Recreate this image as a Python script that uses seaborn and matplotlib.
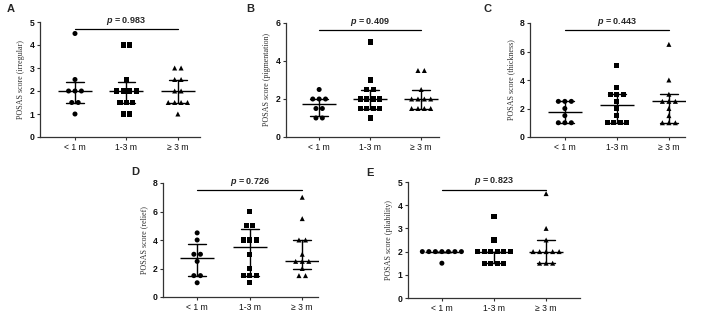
import numpy as np
import pandas as pd
import matplotlib
matplotlib.use("Agg")
import matplotlib.pyplot as plt
import seaborn as sns

# ---------------- data ----------------
categories = ["< 1 m", "1-3 m", "≥ 3 m"]
panel_letters = ["A", "B", "C", "D", "E"]
y_labels = ["POSAS score (irregular)", "POSAS score (pigmentation)",
            "POSAS score (thickness)", "POSAS score (relief)",
            "POSAS score (pliability)"]
p_values = ["0.983", "0.409", "0.443", "0.726", "0.823"]
y_max = [5, 6, 8, 8, 5]
y_step = [1, 2, 2, 2, 1]

irregular_lt1 = [4.5, 2.5, 2, 2, 2, 1.5, 1.5, 1]
irregular_1to3 = [4, 4, 2.5, 2, 2, 2, 2, 1.5, 1.5, 1.5, 1, 1]
irregular_ge3 = [3, 3, 2.5, 2.5, 2, 2, 1.5, 1.5, 1.5, 1.5, 1]

pigment_lt1 = [2.5, 2, 2, 2, 1.5, 1.5, 1, 1]
pigment_1to3 = [5, 3, 2.5, 2.5, 2, 2, 2, 2, 1.5, 1.5, 1.5, 1.5, 1]
pigment_ge3 = [3.5, 3.5, 2.5, 2, 2, 2, 2, 1.5, 1.5, 1.5, 1.5]

thick_lt1 = [2.5, 2.5, 2.5, 2, 1.5, 1, 1, 1]
thick_1to3 = [5, 3.5, 3, 3, 3, 2.5, 2, 1.5, 1, 1, 1, 1]
thick_ge3 = [6.5, 4, 3, 2.5, 2.5, 2.5, 2, 1.5, 1, 1, 1]

relief_lt1 = [4.5, 4, 3, 3, 2.5, 1.5, 1.5, 1]
relief_1to3 = [6, 5, 5, 4, 4, 4, 3, 2, 1.5, 1.5, 1.5, 1]
relief_ge3 = [7, 5.5, 4, 4, 3, 2.5, 2.5, 2.5, 2, 1.5, 1.5]

pliab_lt1 = [2, 2, 2, 2, 2, 2, 2, 1.5]
pliab_1to3 = [3.5, 2.5, 2, 2, 2, 2, 2, 2, 1.5, 1.5, 1.5, 1.5]
pliab_ge3 = [4.5, 3, 2.5, 2, 2, 2, 2, 2, 1.5, 1.5, 1.5]

panels_data = [
    [irregular_lt1, irregular_1to3, irregular_ge3],
    [pigment_lt1, pigment_1to3, pigment_ge3],
    [thick_lt1, thick_1to3, thick_ge3],
    [relief_lt1, relief_1to3, relief_ge3],
    [pliab_lt1, pliab_1to3, pliab_ge3],
]

# ---------------- layout / style ----------------
W, H = 708, 313
# axes boxes in pixels: left, right, top, bottom
boxes_px = [(40, 200, 22, 137), (286, 439, 23, 137), (530, 685, 23, 137),
            (163, 318, 183, 297), (408, 580, 182, 298)]
xlims = [(-0.68, 2.43), (-0.65, 2.35), (-0.67, 2.31), (-0.65, 2.3), (-0.65, 2.65)]
letter_px = [(11, 9), (250, 9), (488, 9), (135, 172), (370, 173)]
marker_map = {categories[0]: "o", categories[1]: "s", categories[2]: "^"}
spacing = 0.125
pline_frac = 0.935

sns.set_theme(style="ticks")
plt.rcParams["font.family"] = ["Liberation Sans", "DejaVu Sans"]
plt.rcParams["mathtext.fontset"] = "custom"
plt.rcParams["mathtext.it"] = "Liberation Sans:italic:bold"
plt.rcParams["mathtext.rm"] = "Liberation Sans:bold"

fig = plt.figure(figsize=(W / 100, H / 100), dpi=100)

def q1(v):
    return np.percentile(v, 25, method="weibull")

def q3(v):
    return np.percentile(v, 75, method="weibull")

for i, groups in enumerate(panels_data):
    l, r, t, b = boxes_px[i]
    ax = fig.add_axes([l / W, 1 - b / H, (r - l) / W, (b - t) / H])

    rows = []
    for gi, (cat, vals) in enumerate(zip(categories, groups)):
        vals = np.asarray(vals, dtype=float)
        for v in np.unique(vals):
            m = int(np.sum(vals == v))
            offs = (np.arange(m) - (m - 1) / 2) * spacing
            for o in offs:
                rows.append({"group": cat, "gpos": gi, "xj": gi + o, "value": v})
    df = pd.DataFrame(rows)

    sns.scatterplot(data=df, x="xj", y="value", style="group",
                    markers=marker_map, color="black", s=13, linewidth=0,
                    legend=False, ax=ax, zorder=3)

    sns.pointplot(data=df, x="gpos", y="value", native_scale=True,
                  estimator="median", errorbar=lambda v: (q1(v), q3(v)),
                  capsize=0.34, markers="_", markersize=25,
                  markeredgewidth=1.0, linestyle="none", color="black",
                  err_kws={"linewidth": 1.0}, ax=ax, zorder=4)

    ax.set_xlim(*xlims[i])
    ax.set_ylim(0, y_max[i])
    ax.set_yticks(np.arange(0, y_max[i] + 0.01, y_step[i]))
    ax.set_xticks(range(len(categories)), labels=categories)
    ax.set_xlabel("")
    ax.set_ylabel(y_labels[i], family=["Liberation Serif", "DejaVu Serif"],
                  fontsize=5.8, color="#333333", labelpad=3)
    sns.despine(ax=ax)
    for sp in ["left", "bottom"]:
        ax.spines[sp].set_linewidth(0.9)
        ax.spines[sp].set_color("#333333")
    ax.tick_params(axis="both", direction="out", length=2.5, width=0.8,
                   color="#333333", labelsize=6.2, pad=1.5, labelcolor="#111111")
    for lab in ax.get_yticklabels():
        lab.set_fontweight("bold")

    # p-value bar
    yl = pline_frac * y_max[i]
    ax.plot([0, 2], [yl, yl], color="black", linewidth=0.9, clip_on=False)
    ax.annotate(f"$p$ = {p_values[i]}", xy=(1, yl), xytext=(0, 1.5),
                textcoords="offset points", ha="center", va="bottom",
                fontsize=6.5, fontweight="bold", annotation_clip=False)

    lx, ly = letter_px[i]
    fig.text(lx / W, 1 - ly / H, panel_letters[i], ha="center", va="center",
             fontsize=8, fontweight="bold")

fig.savefig("out.png", dpi=100)
